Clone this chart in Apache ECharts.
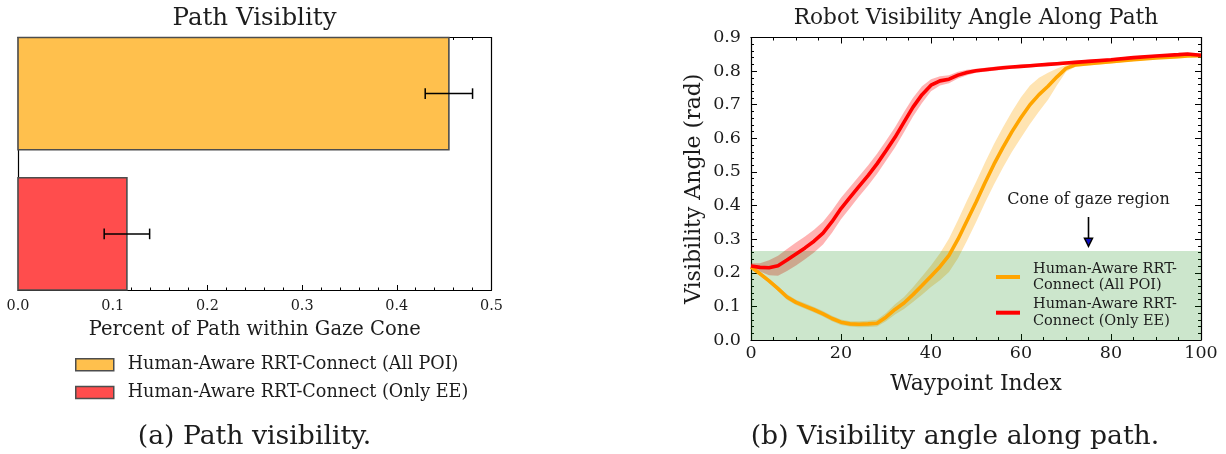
<!DOCTYPE html>
<html>
<head>
<meta charset="utf-8">
<script src="https://cdn.jsdelivr.net/npm/echarts@6/dist/echarts.min.js"></script>
<style>
  html, body { margin: 0; padding: 0; background: #fff; }
  #chart { width: 1226px; height: 454px; }
</style>
</head>
<body>
<div id="chart"></div>
<script>
// ---- data ---------------------------------------------------------------
const methods = ['Human-Aware RRT-Connect (All POI)', 'Human-Aware RRT-Connect (Only EE)'];

// share of the path that stays within the gaze cone (mean and spread)
const visibleShare = [0.455, 0.115];
const visibleShareErr = [0.025, 0.024];
const barSlots = [1, 0];                 // All POI on top, Only EE below

// visibility angle (rad) along the path
const waypoints = [0, 2, 4, 6, 8, 10, 12, 14, 16, 18, 20, 22, 24, 26, 28, 30, 32, 34, 36, 38,
  40, 42, 44, 46, 48, 50, 52, 54, 56, 58, 60, 62, 64, 66, 68, 70, 72, 75, 80, 85, 90, 95, 97, 100];
const allPoiMean = [0.217, 0.197, 0.176, 0.153, 0.128, 0.112, 0.101, 0.090, 0.078, 0.064,
  0.053, 0.048, 0.047, 0.048, 0.050, 0.068, 0.091, 0.110, 0.135, 0.162,
  0.190, 0.218, 0.252, 0.300, 0.355, 0.410, 0.468, 0.523, 0.573, 0.620,
  0.662, 0.700, 0.730, 0.755, 0.783, 0.808, 0.818, 0.822, 0.828, 0.834, 0.839, 0.843, 0.845, 0.846];
const allPoiStd = [0.004, 0.005, 0.006, 0.007, 0.008, 0.008, 0.008, 0.008, 0.008, 0.008,
  0.008, 0.008, 0.009, 0.009, 0.010, 0.012, 0.015, 0.018, 0.022, 0.027,
  0.032, 0.040, 0.050, 0.057, 0.060, 0.060, 0.060, 0.060, 0.060, 0.060,
  0.060, 0.057, 0.050, 0.040, 0.025, 0.010, 0.006, 0.005, 0.005, 0.004, 0.004, 0.004, 0.004, 0.004];
const onlyEeMean = [0.220, 0.216, 0.215, 0.221, 0.238, 0.256, 0.274, 0.294, 0.318, 0.352,
  0.391, 0.424, 0.457, 0.489, 0.524, 0.563, 0.603, 0.648, 0.693, 0.730,
  0.758, 0.771, 0.776, 0.788, 0.796, 0.801, 0.804, 0.807, 0.810, 0.812,
  0.814, 0.816, 0.818, 0.820, 0.822, 0.824, 0.826, 0.829, 0.834, 0.840, 0.845, 0.849, 0.851, 0.847];
const onlyEeStd = [0.008, 0.012, 0.022, 0.030, 0.033, 0.034, 0.034, 0.034, 0.034, 0.033,
  0.032, 0.031, 0.030, 0.030, 0.030, 0.030, 0.030, 0.030, 0.028, 0.025,
  0.018, 0.014, 0.012, 0.010, 0.008, 0.006, 0.006, 0.006, 0.006, 0.005,
  0.005, 0.005, 0.005, 0.005, 0.005, 0.005, 0.005, 0.005, 0.004, 0.004, 0.004, 0.004, 0.004, 0.004];

const coneLimit = 0.265;                  // upper edge of the cone-of-gaze region
const coneNote = 'Cone of gaze region';
const coneNoteAt = [75, 0.416];
const coneArrow = [75, 0.366, 0.279];     // x, tail, tip

// ---- helpers ------------------------------------------------------------
const SERIF = 'DejaVu Serif';
const INK = '#1c1c1c';
const frameLine = { show: true, onZero: false, lineStyle: { color: '#000', width: 1.2 } };
const tickStyle = { color: '#000', width: 1 };

function barItem(params, api) {
  const v = api.value(0), slot = api.value(1);
  const p0 = api.coord([0, slot]);
  const p1 = api.coord([v, slot]);
  const h = api.size([0, 0.8])[1];
  return {
    type: 'rect',
    shape: { x: p0[0], y: p0[1] - h / 2, width: p1[0] - p0[0], height: h },
    style: { fill: api.visual('color'), stroke: '#4D4D4D', lineWidth: 1.6 }
  };
}

function errItem(params, api) {
  const c = api.value(0), slot = api.value(1), e = api.value(2);
  const a = api.coord([c - e, slot]);
  const b = api.coord([c + e, slot]);
  const cap = 5.3;
  const st = { stroke: '#000', lineWidth: 1.5 };
  return {
    type: 'group',
    children: [
      { type: 'line', shape: { x1: a[0], y1: a[1], x2: b[0], y2: b[1] }, style: st },
      { type: 'line', shape: { x1: a[0], y1: a[1] - cap, x2: a[0], y2: a[1] + cap }, style: st },
      { type: 'line', shape: { x1: b[0], y1: b[1] - cap, x2: b[0], y2: b[1] + cap }, style: st }
    ]
  };
}

// one filled polygon between the lower and upper edge of a spread band
function bandItem(fill) {
  return function (params, api) {
    if (params.dataIndexInside !== 0) return null;
    const up = [], down = [];
    for (let j = 0; j < params.dataInsideLength; j++) {
      const x = api.value(0, j);
      down.push(api.coord([x, api.value(1, j)]));
      up.push(api.coord([x, api.value(2, j)]));
    }
    return {
      type: 'polygon',
      shape: { points: up.concat(down.reverse()) },
      style: { fill: fill }
    };
  };
}

function bandSeries(name, mean, std, fill) {
  return {
    type: 'custom', name: name, xAxisIndex: 2, yAxisIndex: 2, z: 1, silent: true, clip: true,
    encode: { x: 0, y: [1, 2] },
    renderItem: bandItem(fill),
    data: waypoints.map((x, i) => [x, +(mean[i] - std[i]).toFixed(4), +(mean[i] + std[i]).toFixed(4)])
  };
}

// downward arrow: shaft plus a filled head ending at the tip
function arrowItem(params, api) {
  const tail = api.coord([api.value(0), api.value(1)]);
  const tip = api.coord([api.value(0), api.value(2)]);
  const headLen = 8, headHalf = 4;
  return {
    type: 'group',
    children: [
      { type: 'line', shape: { x1: tail[0], y1: tail[1], x2: tip[0], y2: tip[1] - headLen }, style: { stroke: '#000', lineWidth: 1.6 } },
      {
        type: 'polygon',
        shape: { points: [[tip[0] - headHalf, tip[1] - headLen], [tip[0] + headHalf, tip[1] - headLen], [tip[0], tip[1]]] },
        style: { fill: '#1010c0', stroke: '#000', lineWidth: 1.5, lineJoin: 'miter' }
      }
    ]
  };
}

// ---- chart --------------------------------------------------------------
const chart = echarts.init(document.getElementById('chart'), null, { renderer: 'canvas' });

const option = {
  animation: false,
  backgroundColor: '#fff',
  textStyle: { fontFamily: SERIF, color: INK },
  grid: [
    { left: 18, top: 37.5, width: 473.5, height: 252.5 },
    { left: 751, top: 37.5, width: 450, height: 302.5 }
  ],
  graphic: [
    { type: 'text', x: 254.5, y: 19, style: { text: 'Path Visiblity', font: '24.5px "DejaVu Serif"', fill: INK, align: 'center', verticalAlign: 'middle' } },
    { type: 'text', x: 976, y: 18, style: { text: 'Robot Visibility Angle Along Path', font: '21.7px "DejaVu Serif"', fill: INK, align: 'center', verticalAlign: 'middle' } },
    { type: 'text', x: 254.5, y: 437, style: { text: '(a) Path visibility.', font: '26.7px "DejaVu Serif"', fill: INK, align: 'center', verticalAlign: 'middle' } },
    { type: 'text', x: 955, y: 437, style: { text: '(b) Visibility angle along path.', font: '26.7px "DejaVu Serif"', fill: INK, align: 'center', verticalAlign: 'middle' } }
  ],
  legend: [
    {
      orient: 'vertical', left: 75, top: 354.7, padding: 0, itemWidth: 38, itemHeight: 12, itemGap: 7.7,
      icon: 'rect', selectedMode: false,
      textStyle: { fontFamily: SERIF, fontSize: 17.6, lineHeight: 20, color: INK, padding: [0, 0, 0, 9] },
      data: [
        { name: methods[0], itemStyle: { color: '#FFC04D', borderColor: '#4D4D4D', borderWidth: 1.5 } },
        { name: methods[1], itemStyle: { color: '#FF4D4D', borderColor: '#4D4D4D', borderWidth: 1.5 } }
      ]
    },
    {
      orient: 'vertical', left: 996, top: 260.5, padding: 0, itemWidth: 24, itemHeight: 4, itemGap: 2.7,
      icon: 'rect', selectedMode: false,
      formatter: (n) => n.replace('RRT-Connect', 'RRT-\nConnect'),
      textStyle: { fontFamily: SERIF, fontSize: 14.5, lineHeight: 16.5, color: INK, padding: [0, 0, 0, 8] },
      data: [
        { name: methods[0], itemStyle: { color: '#FFA500', borderWidth: 0 } },
        { name: methods[1], itemStyle: { color: '#FF0000', borderWidth: 0 } }
      ]
    }
  ],
  xAxis: [
    {
      gridIndex: 0, type: 'value', min: 0, max: 0.5, interval: 0.1, position: 'bottom',
      axisLine: frameLine,
      axisTick: { inside: true, length: 5, lineStyle: tickStyle },
      minorTick: { show: true, splitNumber: 5, length: 2.5, lineStyle: tickStyle },
      splitLine: { show: false },
      axisLabel: { fontSize: 14.4, fontFamily: SERIF, color: INK, margin: 9.5, formatter: (v) => v.toFixed(1) },
      name: 'Percent of Path within Gaze Cone', nameLocation: 'middle', nameGap: 30,
      nameTextStyle: { fontSize: 19.5, fontFamily: SERIF, color: INK }
    },
    {
      gridIndex: 0, type: 'value', min: 0, max: 0.5, interval: 0.1, position: 'top',
      axisLine: frameLine,
      axisTick: { inside: true, length: 5, lineStyle: tickStyle },
      minorTick: { show: true, splitNumber: 5, length: 2.5, lineStyle: tickStyle },
      splitLine: { show: false }, axisLabel: { show: false }
    },
    {
      gridIndex: 1, type: 'value', min: 0, max: 100, interval: 20, position: 'bottom',
      axisLine: frameLine,
      axisTick: { inside: true, length: 6, lineStyle: tickStyle },
      minorTick: { show: true, splitNumber: 4, length: 3, lineStyle: tickStyle },
      splitLine: { show: false },
      axisLabel: { fontSize: 17.5, fontFamily: SERIF, color: INK, margin: 4 },
      name: 'Waypoint Index', nameLocation: 'middle', nameGap: 33,
      nameTextStyle: { fontSize: 21.8, fontFamily: SERIF, color: INK }
    },
    {
      gridIndex: 1, type: 'value', min: 0, max: 100, interval: 20, position: 'top',
      axisLine: frameLine,
      axisTick: { inside: true, length: 6, lineStyle: tickStyle },
      minorTick: { show: true, splitNumber: 4, length: 3, lineStyle: tickStyle },
      splitLine: { show: false }, axisLabel: { show: false }
    }
  ],
  yAxis: [
    {
      gridIndex: 0, type: 'value', min: -0.4, max: 1.4, position: 'left',
      axisLine: frameLine, axisTick: { show: false }, axisLabel: { show: false }, splitLine: { show: false }
    },
    {
      gridIndex: 0, type: 'value', min: -0.4, max: 1.4, position: 'right',
      axisLine: frameLine, axisTick: { show: false }, axisLabel: { show: false }, splitLine: { show: false }
    },
    {
      gridIndex: 1, type: 'value', min: 0, max: 0.9, interval: 0.1, position: 'left',
      axisLine: frameLine,
      axisTick: { inside: true, length: 6, lineStyle: tickStyle },
      minorTick: { show: true, splitNumber: 5, length: 3, lineStyle: tickStyle },
      splitLine: { show: false },
      axisLabel: { fontSize: 17.5, fontFamily: SERIF, color: INK, margin: 10, formatter: (v) => v.toFixed(1) },
      name: 'Visibility Angle (rad)', nameLocation: 'middle', nameGap: 46, nameRotate: 90,
      nameTextStyle: { fontSize: 22, fontFamily: SERIF, color: INK }
    },
    {
      gridIndex: 1, type: 'value', min: 0, max: 0.9, interval: 0.1, position: 'right',
      axisLine: frameLine,
      axisTick: { inside: true, length: 6, lineStyle: tickStyle },
      minorTick: { show: true, splitNumber: 5, length: 3, lineStyle: tickStyle },
      splitLine: { show: false }, axisLabel: { show: false }
    }
  ],
  series: [
    // left panel: horizontal bars with error bars
    {
      type: 'custom', name: methods[0], xAxisIndex: 0, yAxisIndex: 0,
      itemStyle: { color: '#FFC04D' }, renderItem: barItem, encode: { x: 0, y: 1 },
      data: [[visibleShare[0], barSlots[0]]]
    },
    {
      type: 'custom', name: methods[1], xAxisIndex: 0, yAxisIndex: 0,
      itemStyle: { color: '#FF4D4D' }, renderItem: barItem, encode: { x: 0, y: 1 },
      data: [[visibleShare[1], barSlots[1]]]
    },
    {
      type: 'custom', name: 'spread', xAxisIndex: 0, yAxisIndex: 0, z: 3,
      renderItem: errItem, encode: { x: 0, y: 1 },
      data: visibleShare.map((v, i) => [v, barSlots[i], visibleShareErr[i]])
    },
    // right panel: spread bands
    bandSeries('All POI spread', allPoiMean, allPoiStd, 'rgba(255,165,0,0.3)'),
    bandSeries('Only EE spread', onlyEeMean, onlyEeStd, 'rgba(255,0,0,0.3)'),
    // cone-of-gaze region with its annotation
    {
      type: 'custom', name: 'cone', xAxisIndex: 2, yAxisIndex: 2, z: 2, silent: true,
      encode: { x: [0, 2], y: [1, 3] },
      data: [[0, 0, 100, coneLimit]],
      renderItem: (params, api) => {
        const a = api.coord([api.value(0), api.value(1)]);
        const b = api.coord([api.value(2), api.value(3)]);
        return {
          type: 'rect',
          shape: { x: a[0], y: b[1], width: b[0] - a[0], height: a[1] - b[1] },
          style: { fill: 'rgba(0,128,0,0.2)' }
        };
      },
      markPoint: {
        silent: true, symbol: 'circle', symbolSize: 1, itemStyle: { color: 'rgba(0,0,0,0)' },
        label: { show: true, position: 'inside', formatter: coneNote, fontFamily: SERIF, fontSize: 16, color: INK },
        data: [{ coord: coneNoteAt }]
      }
    },
    {
      type: 'custom', name: 'cone arrow', xAxisIndex: 2, yAxisIndex: 2, z: 4, silent: true,
      encode: { x: 0, y: [1, 2] },
      data: [coneArrow],
      renderItem: arrowItem
    },
    // right panel: mean curves
    {
      type: 'line', name: methods[0], xAxisIndex: 2, yAxisIndex: 2, z: 3,
      symbol: 'none', lineStyle: { color: '#FFA500', width: 3.6 }, itemStyle: { color: '#FFA500' },
      data: waypoints.map((x, i) => [x, allPoiMean[i]])
    },
    {
      type: 'line', name: methods[1], xAxisIndex: 2, yAxisIndex: 2, z: 3,
      symbol: 'none', lineStyle: { color: '#FF0000', width: 3.6 }, itemStyle: { color: '#FF0000' },
      data: waypoints.map((x, i) => [x, onlyEeMean[i]])
    }
  ]
};

chart.setOption(option);
</script>
</body>
</html>
